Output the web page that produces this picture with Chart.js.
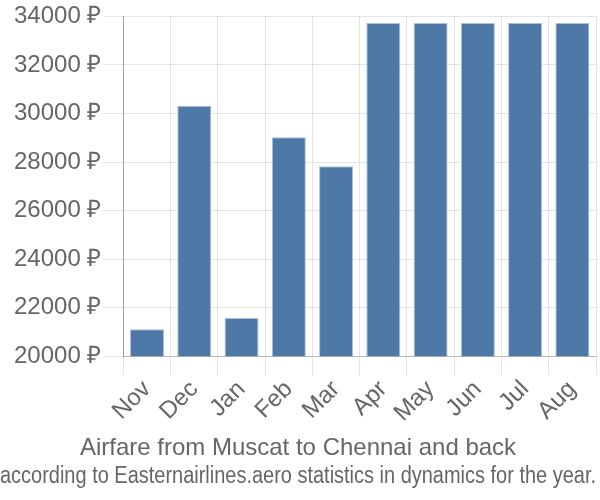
<!DOCTYPE html>
<html>
<head>
<meta charset="utf-8">
<script src="https://cdn.jsdelivr.net/npm/chart.js@4/dist/chart.umd.min.js"></script>
<style>
    html, body { margin: 0; padding: 0; background: #fff; }
    #wrap { width: 600px; height: 500px; }
</style>
</head>
<body>
<div id="wrap"><canvas id="chart"></canvas></div>
<script>
const months = ['Nov', 'Dec', 'Jan', 'Feb', 'Mar', 'Apr', 'May', 'Jun', 'Jul', 'Aug'];
const prices = [21110, 30320, 21570, 29020, 27830, 33730, 33730, 33730, 33730, 33730];
const yMin = 20000;
const yMax = 34000;
const yStep = 2000;

Chart.defaults.font.family = '"Liberation Sans", Arial, sans-serif';
Chart.defaults.color = '#666666';

new Chart(document.getElementById('chart'), {
    type: 'bar',
    data: {
        labels: months,
        datasets: [{
            data: prices,
            backgroundColor: '#4e79a7',
            borderColor: '#a9c0db',
            borderWidth: 1,
        }],
    },
    options: {
        responsive: true,
        maintainAspectRatio: false,
        animation: false,
        layout: {
            padding: { top: 0, right: 4, bottom: 4, left: 0 },
        },
        plugins: {
            legend: { display: false },
            tooltip: { enabled: false },
            title: {
                display: true,
                position: 'bottom',
                weight: 1000,
                text: 'Airfare from Muscat to Chennai and back',
                color: '#666666',
                font: { size: 24, weight: 'normal' },
                padding: { top: 6, bottom: 0 },
            },
            subtitle: {
                display: true,
                position: 'bottom',
                weight: 1500,
                text: 'according to Easternairlines.aero statistics in dynamics for the year.',
                color: '#666666',
                font: { size: 23, weight: 'normal' },
                padding: { top: 0, bottom: 6 },
            },
        },
        scales: {
            x: {
                grid: {
                    color: 'rgba(0, 0, 0, 0.1)',
                    tickLength: 19,
                    offset: true,
                },
                border: { color: 'rgba(0, 0, 0, 0.2)' },
                ticks: {
                    font: { size: 24 },
                    minRotation: 45,
                    maxRotation: 45,
                    padding: 0,
                },
            },
            y: {
                min: yMin,
                max: yMax,
                afterFit: (scale) => {
                    scale.width += 12;
                },
                grid: {
                    color: 'rgba(0, 0, 0, 0.1)',
                    tickLength: 20,
                },
                border: { color: 'rgba(0, 0, 0, 0.3)' },
                ticks: {
                    stepSize: yStep,
                    font: { size: 24 },
                    padding: 2,
                    callback: (value) => value + ' ₽',
                },
            },
        },
    },
});
</script>
</body>
</html>
